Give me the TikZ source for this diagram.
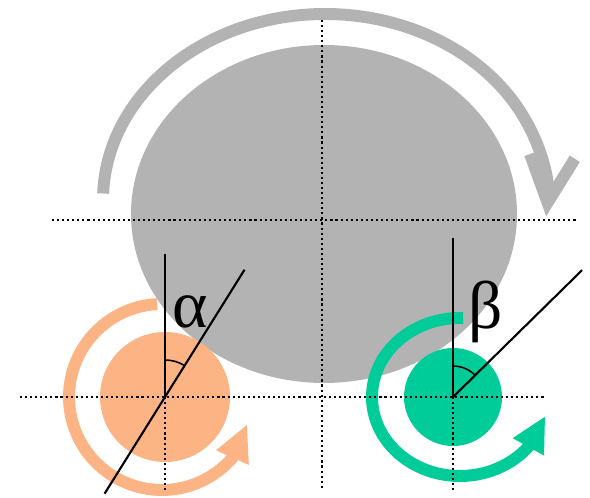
\documentclass[tikz,border=0pt]{standalone}
\usepackage{fontspec}
\newfontfamily\greekfont{Liberation Serif}
\usetikzlibrary{arrows.meta}
\definecolor{disc}{RGB}{179,179,179}
\definecolor{peach}{RGB}{252,180,132}
\definecolor{mint}{RGB}{0,204,153}

\begin{document}
\begin{tikzpicture}[
    x=0.025cm, y=0.025cm,
    guide/.style={black, line width=1.5pt, dash pattern=on 1.5pt off 2.1pt},
    arm/.style={black, line width=1.5pt},
    ring/.style={line width=8.5pt},
    greek/.style={font=\greekfont\fontsize{48}{52}\selectfont, inner sep=0pt}
]
    \useasboundingbox (0,0) rectangle (590,498);
    \coordinate (C) at (324,284);
    \coordinate (P) at (165,101);
    \coordinate (Q) at (453,101);

    % big gray wheel and its turn
    \fill[disc] (C) ellipse[x radius=193, y radius=169];
    \draw[ring, disc, -{Straight Barb[length=33pt, width=32pt]}] (325,298) ++(178:222 and 186)
        arc[start angle=178, end angle=-5, x radius=222, y radius=186];
    \draw[guide] (52,278) -- (578,278);
    \draw[guide] (322,478) -- (322,8);

    % small wheels
    \fill[peach] (P) circle[radius=65];
    \fill[mint] (Q) circle[radius=49];
    \draw[ring, peach, -{Triangle[length=26pt, width=23.5pt]}] (162,101) ++(93:93)
        arc[start angle=93, end angle=319, radius=93] -- ++(66:37);
    \draw[ring, mint, -{Triangle[length=25pt, width=23.5pt]}] (460,101) ++(88:88 and 79)
        arc[start angle=88, end angle=321, x radius=88, y radius=79] -- ++(61:35);
    \draw[guide] (20,101) -- (546,101);
    \draw[guide] (P) -- (165,8);
    \draw[guide] (Q) -- (453,8);

    % angles
    \draw[arm] (P) -- ++(0,143);
    \draw[arm] (P) ++(238:114) -- ++(58:264);
    \draw[arm] (Q) -- ++(0,159);
    \draw[arm] (Q) -- ++(44.5:181);
    \draw[line width=1.1pt] (P) ++(90:37) arc[start angle=90, end angle=58, radius=37];
    \draw[line width=1.1pt] (Q) ++(90:31) arc[start angle=90, end angle=45, radius=31];
    \node[greek] (alpha) at (190,186) {α};
    \node[greek] (beta) at (486,186) {β};
\end{tikzpicture}
\end{document}
